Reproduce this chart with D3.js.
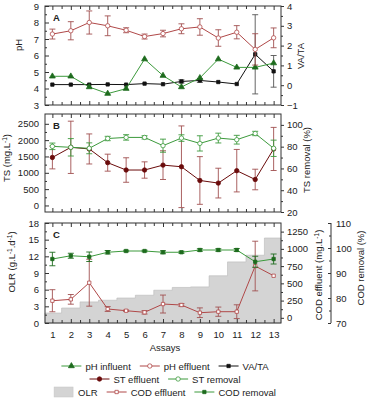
<!DOCTYPE html>
<html>
<head>
<meta charset="utf-8">
<script src="https://cdn.jsdelivr.net/npm/d3@7/dist/d3.min.js"></script>
<style>
    body { margin: 0; background: #fff; }
    text { font-family: Arial, "Liberation Sans", sans-serif; fill: #222; }
</style>
</head>
<body>
<div id="vis"></div>
<script>
// ---- data ----
const assays = [1, 2, 3, 4, 5, 6, 7, 8, 9, 10, 11, 12, 13];

// panel A
const phInfluent = [4.74, 4.74, 4.09, 3.69, 3.99, 5.78, 4.78, 4.09, 4.64, 5.78, 5.28, 5.28, 5.54];
const phEffluent = [7.3, 7.5, 8.0, 7.8, 7.53, 7.15, 7.33, 7.62, 7.73, 7.06, 7.41, 6.37, 7.07];
const phEffluentErr = [0.3, 0.55, 0.7, 0.6, 0.15, 0.15, 0.2, 0.3, 0.5, 0.5, 0.4, 0.95, 0.6];
const vaTa = [0.03, 0.03, 0.03, 0.04, 0.03, 0.08, 0.05, 0.19, 0.24, 0.16, 0.06, 1.56, 0.7];
const vaTaErr = [0, 0, 0, 0, 0, 0, 0, 0.08, 0.1, 0, 0, 2.0, 0.8];

// panel B
const tsEffluent = [1470, 1780, 1730, 1310, 1085, 1085, 1235, 1185, 765, 685, 1065, 795, 1730];
const tsEffluentErr = [350, 800, 460, 260, 375, 250, 440, 1250, 730, 455, 650, 315, 660];
const tsRemoval = [80.3, 79.4, 78.5, 87.5, 88.5, 88.5, 80.9, 87.9, 83, 87.9, 86.4, 92.1, 78.5];
const tsRemovalErr = [3, 8, 5, 2, 2.5, 1.5, 6, 3, 7, 4.5, 4, 2, 7.5];

// panel C
const olr = [1.8, 2.7, 3.8, 4.1, 4.5, 5.0, 5.9, 6.4, 6.5, 8.5, 11.0, 12.2, 15.3];
const codEffluent = [248, 268, 509, 128, 103, 80, 200, 186, 74, 89, 89, 751, 610];
const codEffluentErr = [160, 70, 340, 35, 10, 25, 130, 20, 70, 67, 100, 360, 0];
const codRemoval = [95.6, 96.9, 96.5, 98.3, 98.8, 98.8, 98.3, 98.3, 99.2, 99.2, 99.2, 94.5, 95.6];
const codRemovalErr = [2.7, 1, 1.9, 0.7, 0.3, 0.3, 0.6, 0.4, 0.5, 0.5, 0.6, 2.2, 2];

// tick values
const phTicks = [3, 4, 5, 6, 7, 8, 9];
const vaTaTicks = [-1, 0, 1, 2, 3, 4];
const tsTicks = [0, 500, 1000, 1500, 2000, 2500];
const tsRemovalTicks = [20, 40, 60, 80, 100];
const olrTicks = [0, 3, 6, 9, 12, 15, 18];
const codTicks = [0, 250, 500, 750, 1000, 1250];
const codRemovalTicks = [70, 80, 90, 100, 110];


function drawChart(options) {

    let defaults = {
        selector: '#vis',
        width: 367,
        height: 400,
        left: 45,
        right: 281
    };
    options = { ...defaults, ...options };

    const col = {
        green: '#3c9a3c',
        greenDark: '#1d6b1d',
        red: '#b04848',
        redDark: '#6a0b0b',
        errRed: '#a05050',
        black: '#111',
        olr: '#d4d4d4'
    };

    const svg = d3.select(options.selector).append('svg')
        .attr('width', options.width)
        .attr('height', options.height)
        .style('display', 'block');

    const panels = {
        A: { top: 6, bottom: 105 },
        B: { top: 114, bottom: 212 },
        C: { top: 223, bottom: 323 }
    };

    //////////// scales ////////////
    const x = d3.scaleLinear().domain([0.6, 13.4]).range([options.left, options.right]);

    const yPh = d3.scaleLinear().domain([3, 9]).range([panels.A.bottom, panels.A.top]);
    const yVa = d3.scaleLinear().domain([-1, 4]).range([panels.A.bottom, panels.A.top]);
    const yTs = d3.scaleLinear().domain([-200, 2800]).range([panels.B.bottom, panels.B.top]);
    const yTsr = d3.scaleLinear().domain([20, 110]).range([panels.B.bottom, panels.B.top]);
    const yOlr = d3.scaleLinear().domain([0, 18]).range([panels.C.bottom, panels.C.top]);
    const yCod = d3.scaleLinear().domain([-75, 1375]).range([panels.C.bottom, panels.C.top]);
    const yCodr = d3.scaleLinear().domain([70, 110]).range([panels.C.bottom, panels.C.top]);

    const halves = assays.map(d => d - 0.5).concat([13.5]).filter(d => d > 0.6 && d < 13.4);

    // midpoints between major ticks -> minor ticks
    const minorOf = ticks => ticks.slice(1).map((t, i) => (t + ticks[i]) / 2);
    const fmt = d3.format('d');

    //////////// OLR step area (drawn first, sits under everything) ////////////
    const olrPts = assays.map((a, i) => ({ x: i === 0 ? 0.6 : a - 0.5, v: olr[i] }));
    olrPts.push({ x: 13.4, v: olr[olr.length - 1] });

    svg.append('path')
        .datum(olrPts)
        .attr('d', d3.area()
            .x(d => x(d.x))
            .y0(yOlr(0))
            .y1(d => yOlr(d.v))
            .curve(d3.curveStepAfter))
        .attr('fill', col.olr)
        .attr('stroke', '#b8b8b8')
        .attr('stroke-width', 0.6);

    //////////// frames + axes ////////////
    function frame(p, showLabels) {
        svg.append('rect')
            .attr('x', options.left).attr('y', p.top)
            .attr('width', options.right - options.left)
            .attr('height', p.bottom - p.top)
            .attr('fill', 'none').attr('stroke', '#333').attr('stroke-width', 1);

        // top ticks, pointing down
        const top = svg.append('g').attr('transform', `translate(0,${p.top})`);
        top.call(d3.axisTop(x).tickValues(assays).tickSize(-4).tickFormat(''));
        top.append('g').call(d3.axisTop(x).tickValues(halves).tickSize(-3).tickFormat(''));

        const bot = svg.append('g').attr('transform', `translate(0,${p.bottom})`);
        bot.call(d3.axisBottom(x).tickValues(assays).tickSize(-4).tickPadding(8)
            .tickFormat(showLabels ? fmt : ''));
        bot.append('g').call(d3.axisBottom(x).tickValues(halves).tickSize(-3).tickFormat(''));
    }

    function leftAxis(scale, ticks) {
        const g = svg.append('g').attr('transform', `translate(${options.left},0)`);
        g.call(d3.axisLeft(scale).tickValues(ticks).tickSize(-4).tickPadding(6).tickFormat(fmt));
        g.append('g').call(d3.axisLeft(scale).tickValues(minorOf(ticks)).tickSize(-2).tickFormat(''));
    }

    function rightAxis(scale, ticks, xpos, inward) {
        const g = svg.append('g').attr('transform', `translate(${xpos},0)`);
        g.call(d3.axisRight(scale).tickValues(ticks).tickSize(inward ? -3 : 3)
            .tickPadding(inward ? 5 : 3).tickFormat(fmt));
        g.append('g').call(d3.axisRight(scale).tickValues(minorOf(ticks)).tickSize(inward ? -2 : 2).tickFormat(''));
        return g;
    }

    frame(panels.A, false);
    frame(panels.B, false);
    frame(panels.C, true);

    leftAxis(yPh, phTicks);
    leftAxis(yTs, tsTicks);
    leftAxis(yOlr, olrTicks);

    rightAxis(yVa, vaTaTicks, options.right, false);
    rightAxis(yTsr, tsRemovalTicks, options.right, false);
    rightAxis(yCod, codTicks, options.right, false);
    const codr = rightAxis(yCodr, codRemovalTicks, 331, true);

    svg.selectAll('.domain').remove();
    codr.append('line')
        .attr('y1', panels.C.top).attr('y2', panels.C.bottom)
        .attr('stroke', '#333');

    svg.selectAll('.tick line').attr('stroke', '#333');
    svg.selectAll('.tick text')
        .style('font-size', '9.5px')
        .attr('fill', '#333');

    //////////// axis titles ////////////
    function vTitle(txt, xpos, ypos) {
        svg.append('text')
            .attr('transform', `translate(${xpos},${ypos}) rotate(-90)`)
            .attr('text-anchor', 'middle')
            .style('font-size', '9.5px')
            .html(txt);
    }
    vTitle('pH', 22, 45);
    vTitle('TS (mg.L<tspan dy="-3" font-size="6.5">-1</tspan><tspan dy="3">)</tspan>', 10, 158);
    vTitle('OLR (g.L<tspan dy="-3" font-size="6.5">-1</tspan><tspan dy="3">.d</tspan><tspan dy="-3" font-size="6.5">-1</tspan><tspan dy="3">)</tspan>', 15, 262);
    vTitle('VA/TA', 304, 56);
    vTitle('TS removal (%)', 310, 160);
    vTitle('COD effluent (mg.L<tspan dy="-3" font-size="6.5">-1</tspan><tspan dy="3">)</tspan>', 322, 275);
    vTitle('COD removal (%)', 364, 268);

    svg.append('text')
        .attr('x', 165).attr('y', 351)
        .attr('text-anchor', 'middle')
        .style('font-size', '9.5px')
        .text('Assays');

    // panel letters
    [['A', panels.A], ['B', panels.B], ['C', panels.C]].forEach(([l, p]) => {
        svg.append('text')
            .attr('x', 53).attr('y', p.top + 15)
            .style('font-size', '9.5px')
            .style('font-weight', 'bold')
            .text(l);
    });

    //////////// series ////////////
    const triangle = d3.symbol(d3.symbolTriangle).size(15);
    const square = d3.symbol(d3.symbolSquare).size(11);

    function series(vals, errs, y, st) {
        const g = svg.append('g');
        const pts = assays.map((a, i) => ({ a, v: vals[i], e: errs ? errs[i] : 0 }));

        // error bars
        g.selectAll('.err')
            .data(pts.filter(d => d.e > 0))
            .join('path')
            .attr('d', d => {
                const cx = x(d.a), y1 = y(d.v + d.e), y2 = y(d.v - d.e);
                return `M${cx - 3},${y1}H${cx + 3}M${cx},${y1}V${y2}M${cx - 3},${y2}H${cx + 3}`;
            })
            .attr('fill', 'none')
            .attr('stroke', st.err || st.line)
            .attr('stroke-width', 0.9);

        g.append('path')
            .datum(pts)
            .attr('d', d3.line().x(d => x(d.a)).y(d => y(d.v)))
            .attr('fill', 'none')
            .attr('stroke', st.line)
            .attr('stroke-width', 1);

        drawMarkers(g, pts.map(d => [x(d.a), y(d.v)]), st);
    }

    function drawMarkers(g, xy, st) {
        if (st.shape === 'circle') {
            g.selectAll('.m').data(xy).join('circle')
                .attr('cx', d => d[0]).attr('cy', d => d[1]).attr('r', 2.2)
                .attr('fill', st.fill).attr('stroke', st.stroke).attr('stroke-width', 0.8);
        } else {
            const sym = st.shape === 'triangle' ? triangle : square;
            g.selectAll('.m').data(xy).join('path')
                .attr('transform', d => `translate(${d[0]},${d[1]})`)
                .attr('d', sym)
                .attr('fill', st.fill).attr('stroke', st.stroke).attr('stroke-width', 0.8);
        }
    }

    const styles = {
        phIn: { line: col.green, shape: 'triangle', fill: col.greenDark, stroke: col.greenDark },
        phEff: { line: col.red, err: col.errRed, shape: 'circle', fill: '#fff', stroke: col.red },
        vaTa: { line: col.black, err: '#555', shape: 'square', fill: col.black, stroke: col.black },
        tsEff: { line: col.redDark, err: col.errRed, shape: 'circle', fill: col.redDark, stroke: col.redDark },
        tsRem: { line: col.green, err: col.green, shape: 'circle', fill: '#fff', stroke: col.green },
        codEff: { line: col.red, err: col.errRed, shape: 'square', fill: '#fff', stroke: col.red },
        codRem: { line: col.green, err: col.greenDark, shape: 'square', fill: col.greenDark, stroke: col.greenDark }
    };

    series(vaTa, vaTaErr, yVa, styles.vaTa);
    series(phInfluent, null, yPh, styles.phIn);
    series(phEffluent, phEffluentErr, yPh, styles.phEff);

    series(tsEffluent, tsEffluentErr, yTs, styles.tsEff);
    series(tsRemoval, tsRemovalErr, yTsr, styles.tsRem);

    series(codEffluent, codEffluentErr, yCod, styles.codEff);
    series(codRemoval, codRemovalErr, yCodr, styles.codRem);

    //////////// legend ////////////
    const rows = [
        { y: 366, items: [['pH influent', styles.phIn], ['pH effluent', styles.phEff], ['VA/TA', styles.vaTa]] },
        { y: 379, items: [['ST effluent', styles.tsEff], ['ST removal', styles.tsRem]] },
        { y: 392, items: [['OLR', null], ['COD effluent', styles.codEff], ['COD removal', styles.codRem]] }
    ];

    rows.forEach(row => {
        const g = svg.append('g');
        let cx = 0;
        row.items.forEach(([label, st]) => {
            const item = g.append('g').attr('transform', `translate(${cx},0)`);
            if (st) {
                item.append('line').attr('x1', 0).attr('x2', 20).attr('y1', 0).attr('y2', 0)
                    .attr('stroke', st.line).attr('stroke-width', 1);
                drawMarkers(item, [[10, 0]], st);
            } else {
                item.append('rect').attr('x', 0).attr('y', -5).attr('width', 19).attr('height', 10)
                    .attr('fill', col.olr).attr('stroke', '#c4c4c4').attr('stroke-width', 0.5);
            }
            const t = item.append('text').attr('x', 24).attr('y', 3.5)
                .style('font-size', '9.5px').text(label);
            cx += 24 + t.node().getComputedTextLength() + 9;
        });
        const w = cx - 9;
        g.attr('transform', `translate(${165 - w / 2},${row.y})`);
    });

    return { svg };
}

drawChart();
</script>
</body>
</html>
